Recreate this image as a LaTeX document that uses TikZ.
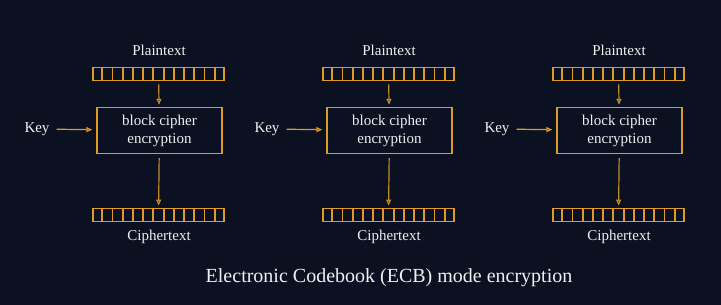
\documentclass[tikz,border=0pt]{standalone}
\usepackage{fontspec}
\setmainfont{Liberation Serif}
\usetikzlibrary{arrows.meta,calc}
\definecolor{bgnavy}{RGB}{11,17,33}
\definecolor{ecborange}{RGB}{222,155,40}
\definecolor{arrowgold}{RGB}{196,140,44}
\definecolor{labelwhite}{RGB}{240,240,240}

\begin{document}
\begin{tikzpicture}[x=1pt, y=-1pt, >={Triangle[open, length=6pt, width=5pt]}]
\tikzset{
  register/.style={draw=ecborange, line width=1.8pt, minimum width=131pt, minimum height=13pt, inner sep=0pt},
  cipherbox/.style={draw=ecborange, line width=1.4pt, minimum width=125pt, minimum height=46pt, align=center, font=\fontsize{15}{18}\selectfont, text=labelwhite, inner sep=0pt},
  label/.style={font=\fontsize{15}{17}\selectfont, text=labelwhite, inner sep=1pt},
  flow/.style={->, arrowgold, line width=1.2pt}
}
\fill[bgnavy] (0,0) rectangle (721,305);
\useasboundingbox (0,0) rectangle (721,305);

\foreach \i in {0,1,2} {
  \begin{scope}[xshift=\i*230pt]
    \node[label] (plain\i) at (159,50) {Plaintext};
    \node[register] (ptreg\i) at (158.5,74) {};
    \node[cipherbox] (enc\i) at (159.5,130.5) {block cipher\\encryption};
    \node[register] (ctreg\i) at (158.5,215) {};
    \node[label] (cipher\i) at (159,237) {Ciphertext};
    \node[label] (key\i) at (37,129) {Key};
    % register cells
    \foreach \k in {1,...,12} {
      \draw[ecborange, line width=1.8pt] ($(ptreg\i.north west)!\k/13!(ptreg\i.north east)$) -- ($(ptreg\i.south west)!\k/13!(ptreg\i.south east)$);
      \draw[ecborange, line width=1.8pt] ($(ctreg\i.north west)!\k/13!(ctreg\i.north east)$) -- ($(ctreg\i.south west)!\k/13!(ctreg\i.south east)$);
    }
    \draw[flow, shorten <=3pt, shorten >=2pt] (ptreg\i) -- (enc\i);
    \draw[flow, shorten <=4pt, shorten >=2pt] (enc\i) -- (ctreg\i);
    \draw[flow, ecborange, shorten <=6pt, shorten >=4pt] (key\i) -- (enc\i);
  \end{scope}
}

\node[font=\fontsize{20}{24}\selectfont, text=labelwhite] (title) at (389,278) {Electronic Codebook (ECB) mode encryption};
\end{tikzpicture}
\end{document}
